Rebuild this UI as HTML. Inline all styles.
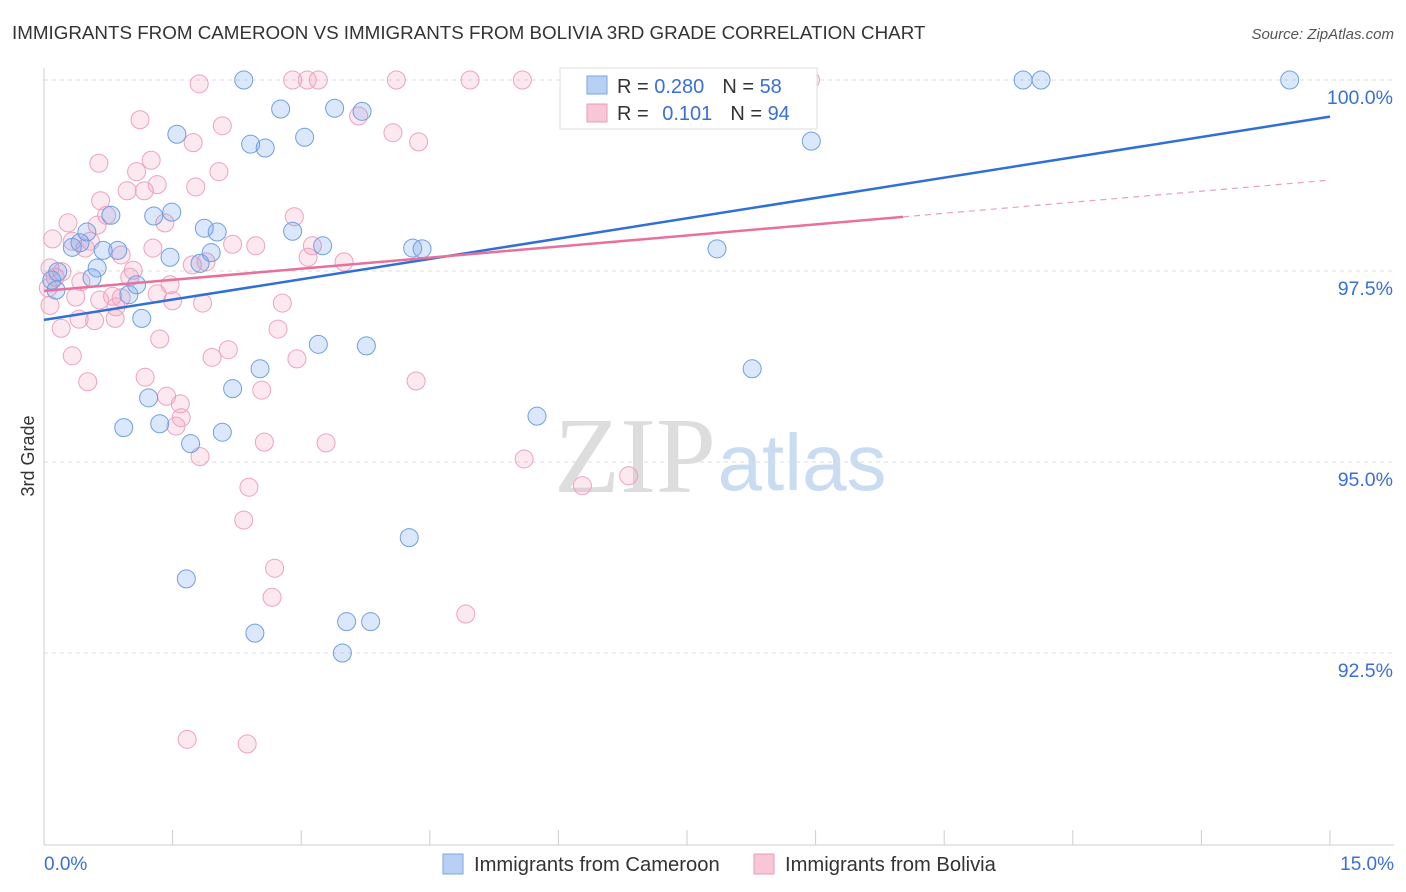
<!DOCTYPE html>
<html><head><meta charset="utf-8">
<style>
body{margin:0;background:#fff;font-family:"Liberation Sans",sans-serif;}
#wrap{position:relative;width:1406px;height:892px;overflow:hidden;}
</style></head>
<body><div id="wrap">
<svg id="chart" width="1406" height="892" xmlns="http://www.w3.org/2000/svg">
<text x="12" y="39" font-size="18.8" fill="#333">IMMIGRANTS FROM CAMEROON VS IMMIGRANTS FROM BOLIVIA 3RD GRADE CORRELATION CHART</text>
<text x="1394" y="39" font-size="15" fill="#555" font-style="italic" text-anchor="end">Source: ZipAtlas.com</text>
<text x="34" y="456" font-size="18" fill="#333" text-anchor="middle" transform="rotate(-90 34 456)">3rd Grade</text>
<g>
<text x="635" y="492" font-size="108" fill="#ddd" font-family="Liberation Serif,serif" text-anchor="middle">ZIP</text>
<text x="802" y="490" font-size="80" fill="#c9dcf2" text-anchor="middle">atlas</text>
</g>
<g id="grid"></g><g id="axes"></g><g id="pts"></g><g id="lines"></g>
<g>
<rect x="560" y="68" width="257" height="61" fill="#fff" stroke="#ddd"/>
<rect x="587" y="76" width="20" height="18" fill="#b8d0f3" stroke="#7aa6e6"/>
<rect x="587" y="104" width="20" height="18" fill="#f8c6d6" stroke="#ec9bb6"/>
<text x="617" y="93" font-size="20" fill="#333">R = <tspan fill="#3a6fd8">0.280</tspan><tspan dx="18">N = </tspan><tspan fill="#3a6fd8">58</tspan></text>
<text x="617" y="120" font-size="20" fill="#333">R = <tspan fill="#3a6fd8" dx="8">0.101</tspan><tspan dx="18">N = </tspan><tspan fill="#3a6fd8">94</tspan></text>
</g>
<g>
<rect x="443" y="854" width="20" height="20" fill="#b8d0f3" stroke="#7aa6e6"/>
<text x="474" y="871" font-size="20.2" fill="#333">Immigrants from Cameroon</text>
<rect x="754" y="854" width="20" height="20" fill="#f8c6d6" stroke="#ec9bb6"/>
<text x="785" y="871" font-size="20.2" fill="#333">Immigrants from Bolivia</text>
</g>
</svg>
<script>
const yTicks=[100,97.5,95,92.5];
const yTickLabels=["100.0%","97.5%","95.0%","92.5%"];
const xLabels=["0.0%","15.0%"];
const blueX=[2.33,11.42,11.63,14.53,2.76,3.39,3.71,1.55,3.04,2.41,2.58,8.95,0.78,1.28,1.49,1.87,2.02,2.90,0.50,0.33,0.69,0.86,0.42,1.47,1.95,1.82,3.25,4.30,4.41,7.85,0.62,0.16,0.09,0.56,1.08,0.99,0.14,1.14,3.20,3.76,2.52,8.26,2.20,1.22,0.93,1.35,1.71,2.08,5.75,4.26,1.66,2.46,3.53,3.81,3.48];
const blueY=[100,100,100,100,99.62,99.63,99.59,99.29,99.25,99.16,99.11,99.20,98.23,98.22,98.27,98.06,98.01,98.02,98.01,97.81,97.77,97.77,97.87,97.68,97.74,97.60,97.83,97.80,97.79,97.79,97.54,97.49,97.38,97.41,97.32,97.19,97.25,96.88,96.54,96.52,96.22,96.22,95.96,95.84,95.45,95.50,95.24,95.39,95.60,94.01,93.47,92.76,92.91,92.91,92.50];
const pinkX=[1.81,2.90,3.07,3.20,4.11,4.97,5.58,8.94,1.12,2.08,3.67,4.07,4.37,1.74,1.25,0.64,1.08,2.04,0.97,1.17,1.32,1.77,0.66,0.73,2.92,0.28,1.41,0.62,0.10,0.33,0.54,0.48,1.27,2.20,2.47,3.13,3.08,0.90,3.50,1.73,1.89,0.07,0.21,0.13,1.04,1.00,0.43,1.47,1.32,0.05,0.80,0.37,0.90,0.65,1.50,2.78,0.07,0.84,1.85,0.83,0.41,0.59,0.20,2.73,1.35,2.15,1.96,0.33,2.95,1.18,0.51,4.34,2.54,1.43,1.59,1.60,1.54,2.57,3.29,1.82,5.60,6.82,2.39,6.28,2.33,2.69,2.66,4.92,1.67,2.37];
const pinkY=[99.95,100,100,100,100,100,100,100,99.48,99.40,99.53,99.31,99.19,99.18,98.95,98.91,98.80,98.80,98.55,98.55,98.63,98.60,98.42,98.23,98.21,98.13,98.13,98.10,97.92,97.89,97.89,97.80,97.80,97.85,97.83,97.83,97.68,97.71,97.62,97.58,97.62,97.54,97.49,97.42,97.51,97.42,97.36,97.32,97.20,97.28,97.17,97.16,97.15,97.12,97.11,97.08,97.05,97.03,97.08,96.88,96.87,96.85,96.75,96.74,96.61,96.47,96.37,96.39,96.35,96.11,96.05,96.06,95.94,95.86,95.76,95.58,95.47,95.26,95.25,95.07,95.04,94.82,94.67,94.69,94.24,93.61,93.23,93.01,91.37,91.31];
const blueTrend=[96.86,99.52];
const pinkTrend=[97.24,98.69];
const pinkSolidEnd=10.02;
const NS="http://www.w3.org/2000/svg";
const X=v=>44+v/15*1286;
const Y=v=>80+(100-v)/2.5*191;
function mk(t,a,p){const e=document.createElementNS(NS,t);for(const k in a)e.setAttribute(k,a[k]);p.appendChild(e);return e;}
const grid=document.getElementById('grid'),axes=document.getElementById('axes'),pts=document.getElementById('pts'),lines=document.getElementById('lines');
yTicks.forEach((t,i)=>{
 const l=mk('line',{x1:44,x2:1394,y1:Y(t),y2:Y(t),stroke:'#ddd','stroke-dasharray':'4,4'},grid);
 
 
 const tx=mk('text',{x:1393,y:Y(t)+24,'font-size':19.5,fill:'#3a6fd8','text-anchor':'end'},axes);
 tx.textContent=yTickLabels[i];
 
 
});
const ax=mk('line',{x1:44,x2:1394,y1:845,y2:845,stroke:'#ccc'},axes);


const ay=mk('line',{x1:44,x2:44,y1:68,y2:845,stroke:'#ccc'},axes);


for(let i=1;i<=10;i++){const tk=mk('line',{x1:X(i*1.5),x2:X(i*1.5),y1:830,y2:845,stroke:'#ccc'},axes);
 
 }
[[0,'start',44],[15,'end',1394]].forEach((d,i)=>{const t=mk('text',{x:d[2],y:870,'font-size':19,fill:'#3a6fd8','text-anchor':d[1]},axes);t.textContent=xLabels[i];
 
 });
pinkX.forEach((x,i)=>{const c=mk('circle',{cx:X(x),cy:Y(pinkY[i]),r:9,fill:'rgba(240,150,180,0.22)',stroke:'#eda3bd','stroke-width':1},pts);
 
 });
blueX.forEach((x,i)=>{const c=mk('circle',{cx:X(x),cy:Y(blueY[i]),r:9,fill:'rgba(110,160,235,0.25)',stroke:'#6f9fe3','stroke-width':1},pts);
 
 });
const pAt=x=>pinkTrend[0]+(pinkTrend[1]-pinkTrend[0])*x/15;
const bl=mk('line',{x1:X(0),y1:Y(blueTrend[0]),x2:X(15),y2:Y(blueTrend[1]),stroke:'#2f6fd6','stroke-width':2.5},lines);


const pl=mk('line',{x1:X(0),y1:Y(pAt(0)),x2:X(pinkSolidEnd),y2:Y(pAt(pinkSolidEnd)),stroke:'#e8709b','stroke-width':2.5},lines);


const pd=mk('line',{x1:X(pinkSolidEnd),y1:Y(pAt(pinkSolidEnd)),x2:X(15),y2:Y(pAt(15)),stroke:'#e8a0b8','stroke-width':1.2,'stroke-dasharray':'6,5'},lines);


</script>
</div></body></html>
